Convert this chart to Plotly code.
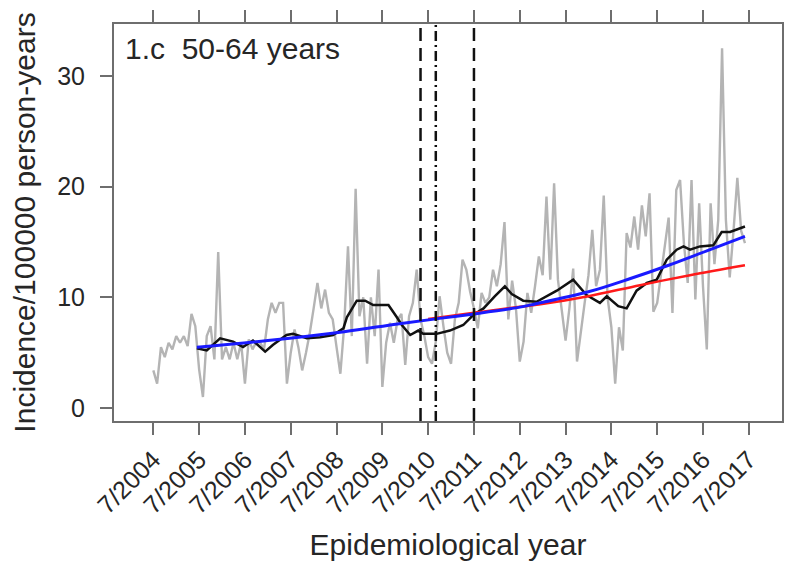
import plotly.graph_objects as go

# ---- data (month index 0 = 7/2004) ----
tick_labels = ["7/2004", "7/2005", "7/2006", "7/2007", "7/2008", "7/2009", "7/2010",
               "7/2011", "7/2012", "7/2013", "7/2014", "7/2015", "7/2016", "7/2017"]
tick_months = [0, 12, 24, 36, 48, 60, 72, 84, 96, 108, 120, 132, 144, 156]
y_ticks = [0, 10, 20, 30]

monthly_incidence = [
    3.4, 2.2, 5.5, 4.6, 5.9, 5.3, 6.5, 5.9, 6.5, 5.6, 8.5, 7.4,
    3.5, 1.0, 6.5, 7.4, 4.4, 14.1, 4.4, 5.5, 4.4, 5.9, 4.4, 5.9,
    2.2, 6.2, 5.3, 6.0, 5.9, 5.3, 8.0, 9.5, 8.6, 9.5, 9.5, 2.2,
    5.0, 7.1, 5.5, 3.4, 5.0, 6.8, 9.0, 11.3, 9.0, 10.7, 8.6, 8.0,
    5.5, 3.1, 7.4, 14.6, 6.5, 19.8, 8.3, 10.0, 4.0, 10.0, 6.5, 12.5,
    1.9, 5.9, 7.7, 5.9, 8.0, 8.5, 3.9, 8.3, 9.5, 12.5, 8.0, 6.5,
    4.6, 4.0, 6.0, 10.1, 7.4, 5.0, 4.0, 8.0, 9.5, 13.4, 12.5, 10.5,
    9.0, 7.2, 10.4, 9.5, 10.0, 12.5, 11.0, 13.0, 16.8, 8.0, 11.5, 9.0,
    4.2, 6.0, 10.4, 8.6, 11.0, 13.7, 12.0, 19.1, 11.6, 20.3, 11.6, 9.0,
    6.1, 9.0, 12.6, 4.2, 7.0, 9.5, 12.0, 16.1, 11.0, 12.5, 19.2, 10.0,
    7.3, 2.2, 7.3, 5.2, 15.8, 14.5, 17.3, 14.3, 18.3, 15.5, 19.4, 8.7,
    9.5, 12.0, 14.9, 17.2, 8.6, 19.7, 20.6, 14.9, 11.3, 20.6, 9.8, 18.5,
    11.0, 5.3, 18.5, 13.0, 17.0, 32.5, 17.0, 11.8, 16.0, 20.8, 16.0, 14.9,
]
months = list(range(len(monthly_incidence)))

avg_months = [11.4, 14.0, 17.5, 20.9, 23.5, 26.1, 29.3, 31.3, 34.9, 36.6, 40.2, 43.7,
              47.1, 49.8, 50.7, 53.3, 55.5, 57.6, 59.7, 61.6, 63.8, 65.1, 67.3, 69.4,
              70.7, 74.2, 77.7, 81.2, 83.8, 86.5, 89.5, 92.1, 93.9, 96.9, 100.4, 103.9,
              105.7, 110.0, 113.5, 117.0, 118.8, 121.8, 124.0, 126.6, 129.3, 131.9, 134.5,
              137.1, 138.9, 140.6, 143.2, 146.7, 148.9, 151.1, 153.3, 155.0]
avg_values = [5.4, 5.2, 6.3, 6.0, 5.5, 6.1, 5.1, 5.7, 6.6, 6.7, 6.3, 6.4,
              6.6, 7.2, 8.2, 9.7, 9.7, 9.3, 9.3, 9.3, 8.2, 7.5, 6.6, 7.0,
              6.7, 6.7, 7.0, 7.5, 8.4, 9.0, 10.1, 11.0, 10.3, 9.7, 9.6, 10.3,
              10.6, 11.6, 10.2, 9.5, 10.1, 9.2, 9.0, 10.6, 11.3, 11.6, 13.4,
              14.3, 14.6, 14.3, 14.6, 14.7, 15.9, 15.9, 16.2, 16.4]

trend_months = [11.4, 30, 50, 64, 75, 84, 95, 100, 114, 125, 135, 145, 155]
trend_values = [5.5, 6.1, 6.9, 7.6, 8.1, 8.5, 9.05, 9.4, 10.5, 11.7, 12.9, 14.2, 15.5]

counter_months = [72, 84, 95, 101, 114, 127.5, 140.6, 155]
counter_values = [8.05, 8.6, 9.1, 9.35, 10.1, 11.1, 12.0, 12.9]

event_months = [70, 74, 84]
event_dash = ["13px,7px", "10px,4px,2px,4px", "13px,7px"]

panel_label = "1.c\u00a0\u00a050-64 years"

# ---- figure ----
# page body has a default 8px margin, so the figure is 8px smaller than the window
FONT = "Liberation Sans, Arial, Helvetica, sans-serif"
AX = "#6e6e6e"
TXT = "#262626"

fig = go.Figure()
fig.add_trace(go.Scatter(x=months, y=monthly_incidence, mode="lines",
                         line=dict(color="#b4b4b4", width=2.4), showlegend=False))
fig.add_trace(go.Scatter(x=avg_months, y=avg_values, mode="lines",
                         line=dict(color="#111111", width=2.5), showlegend=False))
fig.add_trace(go.Scatter(x=counter_months, y=counter_values, mode="lines",
                         line=dict(color="#ff1a1a", width=2.5, shape="spline"), showlegend=False))
fig.add_trace(go.Scatter(x=trend_months, y=trend_values, mode="lines",
                         line=dict(color="#1a1aff", width=3, shape="spline"), showlegend=False))

for m, d in zip(event_months, event_dash):
    fig.add_shape(type="line", xref="x", yref="paper", x0=m, x1=m, y0=0, y1=1,
                  line=dict(color="#111111", width=2.5, dash=d))

fig.add_annotation(text=panel_label, xref="paper", yref="paper", x=0.014, y=0.985,
                   xanchor="left", yanchor="top", showarrow=False,
                   font=dict(size=30, color=TXT, family=FONT))

axis_common = dict(showline=True, linewidth=2, linecolor=AX, mirror="ticks",
                   ticks="outside", ticklen=12, tickwidth=2, tickcolor=AX,
                   showgrid=False, zeroline=False, automargin=False)

fig.update_layout(
    width=784, height=553,
    margin=dict(l=106, r=10, t=16, b=140),
    paper_bgcolor="white", plot_bgcolor="white",
    font=dict(family=FONT, color=TXT),
    xaxis=dict(range=[-10.3, 164.7], tickvals=tick_months, ticktext=tick_labels,
               tickangle=-45, tickfont=dict(size=25, color=TXT, family=FONT),
               title=dict(text="Epidemiological year", font=dict(size=30, color=TXT, family=FONT),
                          standoff=16),
               **axis_common),
    yaxis=dict(range=[-1.17, 34.69], tickvals=y_ticks,
               ticklabelstandoff=10, tickfont=dict(size=25, color=TXT, family=FONT),
               title=dict(text="Incidence/100000 person-years",
                          font=dict(size=30, color=TXT, family=FONT), standoff=22),
               **axis_common),
)

fig.write_html("out.html")
